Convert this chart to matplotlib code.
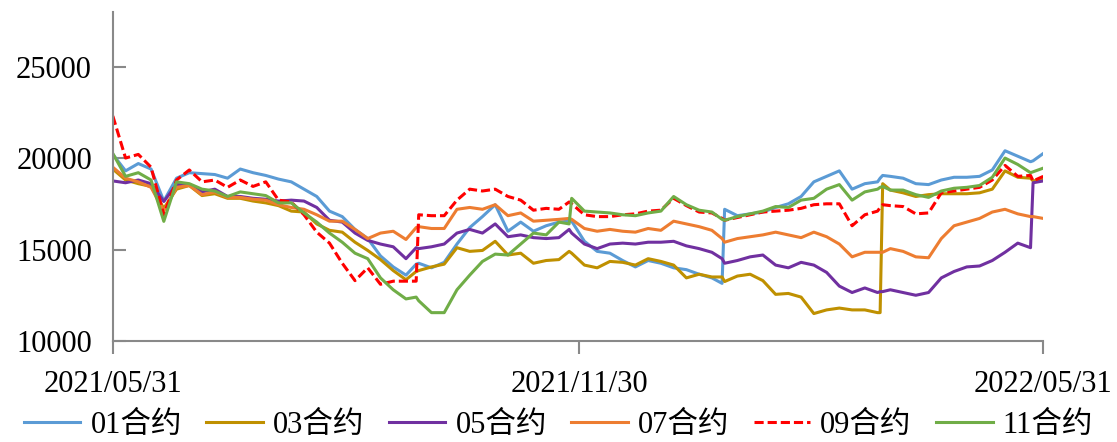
import pandas as pd
import matplotlib
matplotlib.use("Agg")
import matplotlib.pyplot as plt

plt.rcParams["font.family"] = ["Liberation Serif", "Noto Sans CJK SC"]
plt.rcParams["font.size"] = 22

# dates of the sampled points
dates = [
    "2021-05-31", "2021-06-05", "2021-06-10", "2021-06-15", "2021-06-20", "2021-06-25", "2021-06-30", "2021-07-05", "2021-07-10", "2021-07-15",
    "2021-07-20", "2021-07-25", "2021-07-30", "2021-08-04", "2021-08-09", "2021-08-14", "2021-08-19", "2021-08-24", "2021-08-29", "2021-09-03",
    "2021-09-08", "2021-09-13", "2021-09-18", "2021-09-23", "2021-09-27", "2021-09-28", "2021-10-03", "2021-10-08", "2021-10-13", "2021-10-18",
    "2021-10-23", "2021-10-28", "2021-11-02", "2021-11-07", "2021-11-12", "2021-11-17", "2021-11-22", "2021-11-26", "2021-11-27", "2021-12-02",
    "2021-12-07", "2021-12-12", "2021-12-17", "2021-12-22", "2021-12-27", "2022-01-01", "2022-01-06", "2022-01-11", "2022-01-16", "2022-01-21",
    "2022-01-25", "2022-01-26", "2022-01-31", "2022-02-05", "2022-02-10", "2022-02-15", "2022-02-20", "2022-02-25", "2022-03-02", "2022-03-07",
    "2022-03-12", "2022-03-17", "2022-03-22", "2022-03-27", "2022-03-28", "2022-03-29", "2022-04-01", "2022-04-06", "2022-04-11", "2022-04-16",
    "2022-04-21", "2022-04-26", "2022-05-01", "2022-05-06", "2022-05-11", "2022-05-16", "2022-05-21", "2022-05-26", "2022-05-27", "2022-05-31",
]

c01 = [
    20200, 19300, 19700, 19400, 17650, 18900, 19200, 19150, 19100, 18900,
    19400, 19200, 19050, 18850, 18700, 18300, 17900, 17100, 16800, 16100,
    15600, 14650, 14050, 13600, 14200, 14250, 14000, 14300, 15300, 16200,
    16800, 17450, 16000, 16500, 16000, 16300, 16500, 16550, 16550, 15450,
    14900, 14800, 14400, 14050, 14400, 14250, 14000, 13900, 13650, 13450,
    13150, 17200, 16850, 16950, 17050, 17300, 17500, 17900, 18700, 19000,
    19300, 18300, 18600, 18700, 18900, 19050, 19000, 18900, 18600, 18550,
    18800, 18950, 18950, 19000, 19350, 20400, 20100, 19800, 19850, 20250,
]
c03 = [
    19400, 18800, 18600, 18450, 17250, 18300, 18500, 17950, 18050, 17800,
    17800, 17650, 17550, 17400, 17100, 17050, 16400, 16050, 15950, 15400,
    14950, 14450, 13850, 13350, 13800, 13850, 14050, 14200, 15100, 14900,
    14950, 15450, 14700, 14800, 14250, 14400, 14450, 14900, 14800, 14150,
    14000, 14350, 14300, 14150, 14500, 14350, 14150, 13450, 13650, 13500,
    13500, 13250, 13550, 13650, 13300, 12550, 12600, 12400, 11500, 11700,
    11800, 11700, 11700, 11550, 11550, 18600, 18250, 18100, 17900, 18000,
    18050, 18050, 18050, 18100, 18300, 19300, 18950, 18900, 18750, 18850,
]
c05 = [
    18750, 18650, 18800, 18600, 17630, 18550, 18550, 18150, 18300, 17900,
    17900, 17800, 17750, 17650, 17700, 17650, 17300, 16600, 16500, 15900,
    15500, 15300, 15150, 14500, 15100, 15050, 15150, 15300, 15900, 16100,
    15900, 16400, 15700, 15800, 15650, 15600, 15650, 16100, 15900, 15300,
    15050, 15300, 15350, 15300, 15400, 15400, 15450, 15200, 15050, 14850,
    14500, 14250, 14400, 14600, 14700, 14150, 14000, 14300, 14150, 13750,
    13000, 12650, 12900, 12650, 12700, 12700, 12800, 12650, 12500, 12650,
    13450, 13800, 14050, 14100, 14400, 14850, 15350, 15100, 18650, 18750,
]
c07 = [
    19500, 18900, 18700, 18400, 17100, 18400, 18500, 18000, 18150, 17850,
    17850, 17750, 17700, 17450, 17300, 17200, 16900, 16550, 16550, 16100,
    15600, 15900, 16000, 15550, 16200, 16250, 16150, 16150, 17200, 17300,
    17200, 17450, 16850, 17000, 16550, 16600, 16650, 16700, 16650, 16150,
    16000, 16100, 16000, 15950, 16150, 16050, 16550, 16400, 16250, 16050,
    15600, 15400, 15600, 15700, 15800, 15950, 15800, 15650, 15950, 15700,
    15300, 14600, 14850, 14850, 14850, 14850, 15050, 14900, 14600, 14550,
    15600, 16300, 16500, 16700, 17050, 17200, 16950, 16800, 16800, 16700,
]
c09 = [
    22300, 20000, 20200, 19500, 16900, 18800, 19350, 18700, 18800, 18400,
    18800, 18450, 18700, 17700, 17600, 16900, 15950, 15350, 14250, 13300,
    14000, 13100, 13270, 13270, 13270, 16900, 16850, 16850, 17700, 18300,
    18200, 18300, 17900, 17700, 17150, 17250, 17200, 17600, 17500, 16900,
    16800, 16800, 16900, 16950, 17100, 17150, 17800, 17400, 17050, 17000,
    16700, 16600, 16750, 16900, 17050, 17100, 17150, 17250, 17450, 17500,
    17500, 16300, 16900, 17100, 17300, 17450, 17400, 17350, 16950, 17000,
    18100, 18200, 18300, 18400, 18800, 19600, 19000, 19050, 18750, 19000,
]
c11 = [
    20250, 19000, 19200, 18800, 16540, 18700, 18600, 18300, 18200, 17900,
    18150, 18050, 17950, 17550, 17550, 17000, 16500, 15900, 15400, 14800,
    14500, 13450, 12800, 12300, 12400, 12200, 11550, 11550, 12800, 13600,
    14350, 14750, 14700, 15300, 15900, 15800, 16500, 16400, 17800, 17100,
    17050, 17000, 16900, 16850, 17000, 17100, 17900, 17450, 17150, 17050,
    16650, 16600, 16800, 16950, 17100, 17350, 17300, 17700, 17800, 18300,
    18550, 17700, 18150, 18300, 18400, 18450, 18250, 18250, 18000, 17850,
    18200, 18350, 18400, 18500, 18950, 20000, 19650, 19200, 19250, 19450,
]

labels = ["01合约", "03合约", "05合约", "07合约", "09合约", "11合约"]
colors = ["#5B9BD5", "#BF9000", "#7030A0", "#ED7D31", "#FF0000", "#70AD47"]
tick_dates = ["2021-05-31", "2021-11-30", "2022-05-31"]
tick_labels = ["2021/05/31", "2021/11/30", "2022/05/31"]

x = pd.to_datetime(dates)
series = [c01, c03, c05, c07, c09, c11]

fig = plt.figure(figsize=(11.17, 4.42), dpi=100)
ax = fig.add_axes([0.101, 0.2285, 0.833, 0.745])

for vals, lab, col in zip(series, labels, colors):
    if lab == "09合约":
        ax.plot(x, vals, color=col, lw=2.2, ls=(0, (3, 1.3)), label=lab)
    else:
        ax.plot(x, vals, color=col, lw=2.2, label=lab)

ax.set_xlim(pd.Timestamp("2021-05-31"), pd.Timestamp("2022-05-31"))
ax.set_ylim(10000, 28000)
ax.set_yticks([10000, 15000, 20000, 25000])
ax.set_xticks(pd.to_datetime(tick_dates))
ax.set_xticklabels(tick_labels)

for s in ["top", "right"]:
    ax.spines[s].set_visible(False)
for s in ["left", "bottom"]:
    ax.spines[s].set_color("#898989")
    ax.spines[s].set_linewidth(1.5)

ax.tick_params(axis="y", direction="in", length=9, width=1.5, color="#898989", pad=15)
ax.tick_params(axis="x", direction="out", length=9, width=1.5, color="#898989", pad=12)

fig.legend(loc="center", bbox_to_anchor=(0.5, 0.038), ncol=6, frameon=False,
           handlelength=1.85, handletextpad=0.33, columnspacing=0.8,
           borderpad=0.1)

fig.savefig("out.png", dpi=100)
